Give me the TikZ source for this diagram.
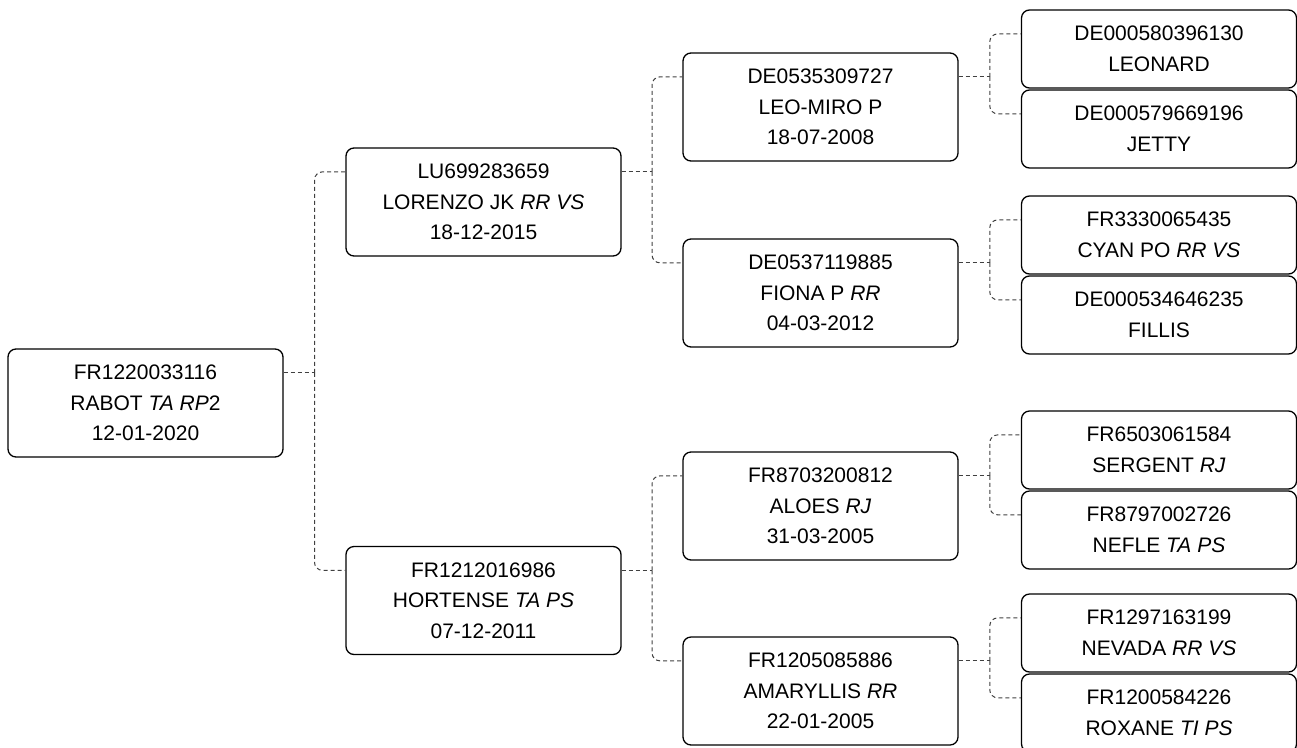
\documentclass[tikz,border=0pt]{standalone}
\usepackage{fontspec}
\setmainfont{Liberation Sans}
\usetikzlibrary{calc}
\tikzset{
  box/.style={draw=black, line width=1.3pt, rounded corners=8pt, minimum width=275pt,
    inner sep=0pt, align=center, font=\fontsize{21}{30.5}\selectfont, text=black},
  bigbox/.style={box, minimum height=108pt},
  smallbox/.style={box, minimum height=78pt},
  conn/.style={draw=black!75, line width=1pt, dash pattern=on 4pt off 3pt, rounded corners=8pt},
}
\newcommand\pedlink[3]{%
  \coordinate (pa) at ($(#1.north east)+(0,24.5)$);
  \coordinate (ca) at ($(#2.north west)+(0,24.5)$);
  \coordinate (cb) at ($(#3.north west)+(0,24.5)$);
  \coordinate (jn) at ($(pa)!0.5!(ca)$);
  \draw[conn] (pa) -- (jn|-pa);
  \draw[conn] (jn|-pa) |- (ca);
  \draw[conn] (jn|-pa) |- (cb);
}
\begin{document}
\begin{tikzpicture}[x=1pt,y=-1pt]
\useasboundingbox (0,0) rectangle (1297,747);
% generation 0
\node[bigbox] (root) at (145.5,403) {FR1220033116\\RABOT \textit{TA RP}2\\12-01-2020};
% generation 1
\node[bigbox] (lor) at (483.5,202) {LU699283659\\LORENZO JK \textit{RR VS}\\18-12-2015};
\node[bigbox] (hor) at (483.5,600.5) {FR1212016986\\HORTENSE \textit{TA PS}\\07-12-2011};
% generation 2
\node[bigbox] (leo) at (820.5,107) {DE0535309727\\LEO-MIRO P\\18-07-2008};
\node[bigbox] (fio) at (820.5,293) {DE0537119885\\FIONA P \textit{RR}\\04-03-2012};
\node[bigbox] (alo) at (820.5,506) {FR8703200812\\ALOES \textit{RJ}\\31-03-2005};
\node[bigbox] (ama) at (820.5,691) {FR1205085886\\AMARYLLIS \textit{RR}\\22-01-2005};
% generation 3
\node[smallbox] (leon) at (1159,49) {DE000580396130\\LEONARD};
\node[smallbox] (jet) at (1159,129) {DE000579669196\\JETTY};
\node[smallbox] (cya) at (1159,235) {FR3330065435\\CYAN PO \textit{RR VS}};
\node[smallbox] (fil) at (1159,315) {DE000534646235\\FILLIS};
\node[smallbox] (ser) at (1159,450) {FR6503061584\\SERGENT \textit{RJ}};
\node[smallbox] (nef) at (1159,530) {FR8797002726\\NEFLE \textit{TA PS}};
\node[smallbox] (nev) at (1159,633) {FR1297163199\\NEVADA \textit{RR VS}};
\node[smallbox] (rox) at (1159,713) {FR1200584226\\ROXANE \textit{TI PS}};
% connectors
\pedlink{root}{lor}{hor}
\pedlink{lor}{leo}{fio}
\pedlink{hor}{alo}{ama}
\pedlink{leo}{leon}{jet}
\pedlink{fio}{cya}{fil}
\pedlink{alo}{ser}{nef}
\pedlink{ama}{nev}{rox}
\end{tikzpicture}
\end{document}
